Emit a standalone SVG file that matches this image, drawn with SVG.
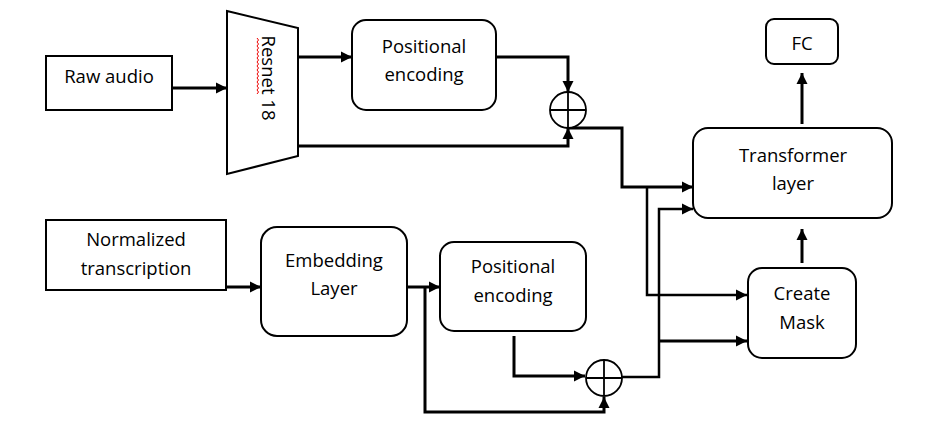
<svg xmlns="http://www.w3.org/2000/svg" width="930" height="434" viewBox="0 0 930 434">
<style>
.box{fill:#fff;stroke:#000;stroke-width:2}
.t{font-family:"Open Sans","Liberation Sans",sans-serif;font-size:18.5px;fill:#000;text-anchor:middle}
.c{fill:none;stroke:#000;stroke-width:3;stroke-linejoin:miter}
.c2{fill:none;stroke:#000;stroke-width:2.5}
.sum{fill:#fff;stroke:#000;stroke-width:1.8}
</style>
<defs>
<marker id="ah" markerUnits="userSpaceOnUse" markerWidth="12" markerHeight="12" refX="11" refY="6" orient="auto">
<path d="M0,0.5 L11,6 L0,11.5 z" fill="#000"/>
</marker>
</defs>
<rect width="930" height="434" fill="#fff"/>
<g id="connectors">
<path class="c" d="M172,88 H227" marker-end="url(#ah)"/>
<path class="c" d="M298,57 H352" marker-end="url(#ah)"/>
<path class="c" d="M496,57 H568 V92" marker-end="url(#ah)"/>
<path class="c" d="M298,146 H568 V128" marker-end="url(#ah)"/>
<path class="c" d="M568,128 H622 V187 H693" marker-end="url(#ah)"/>
<path class="c2" d="M647,187 V295 H747" marker-end="url(#ah)"/>
<path class="c" d="M226,287 H261" marker-end="url(#ah)"/>
<path class="c" d="M407,287 H440" marker-end="url(#ah)"/>
<path class="c" d="M425,287 V412 H604 V397" marker-end="url(#ah)"/>
<path class="c" d="M514,336 V376 H585" marker-end="url(#ah)"/>
<path class="c2" d="M622,377 H659 V209 H693" marker-end="url(#ah)"/>
<path class="c" d="M659,341 H747" marker-end="url(#ah)"/>
<path class="c" d="M802,263 V229" marker-end="url(#ah)"/>
<path class="c" d="M802,124 V73" marker-end="url(#ah)"/>
</g>
<g id="raw-audio">
<rect class="box" x="46" y="56" width="126" height="54"/>
<text class="t" x="109" y="83">Raw audio</text>
</g>
<g id="resnet18">
<polygon class="box" points="227,11 298,28 298,156 227,174"/>
<text class="t" transform="translate(262,78) rotate(90)">Resnet 18</text>
<path d="M257,38 l1.5,2 l-1.5,2 l1.5,2 l-1.5,2 l1.5,2 l-1.5,2 l1.5,2 l-1.5,2 l1.5,2 l-1.5,2 l1.5,2 l-1.5,2 l1.5,2 l-1.5,2 l1.5,2 l-1.5,2 l1.5,2 l-1.5,2 l1.5,2 l-1.5,2 l1.5,2 l-1.5,2 l1.5,2 l-1.5,2 l1.5,2 l-1.5,2 l1.5,2 l-1.5,2" fill="none" stroke="#e00" stroke-width="1"/>
</g>
<g id="pos-enc-1">
<rect class="box" x="352" y="20" width="144" height="90" rx="14"/>
<text class="t" x="424" y="53">Positional</text>
<text class="t" x="424" y="81">encoding</text>
</g>
<g id="sum-1">
<circle class="sum" cx="568" cy="110" r="18"/>
<path d="M550,110 H586 M568,92 V128" stroke="#000" stroke-width="1.8"/>
</g>
<g id="transformer">
<rect class="box" x="693" y="128" width="199" height="90" rx="15"/>
<text class="t" x="793" y="162">Transformer</text>
<text class="t" x="793" y="190">layer</text>
</g>
<g id="fc">
<rect class="box" x="766" y="19" width="72" height="45" rx="8"/>
<text class="t" x="802" y="50">FC</text>
</g>
<g id="create-mask">
<rect class="box" x="748" y="268" width="108" height="90" rx="14"/>
<text class="t" x="802" y="300">Create</text>
<text class="t" x="802" y="329">Mask</text>
</g>
<g id="normalized-transcription">
<rect class="box" x="46" y="220" width="180" height="70"/>
<text class="t" x="136" y="246">Normalized</text>
<text class="t" x="136" y="275">transcription</text>
</g>
<g id="embedding-layer">
<rect class="box" x="261" y="227" width="146" height="109" rx="16"/>
<text class="t" x="334" y="267">Embedding</text>
<text class="t" x="334" y="295">Layer</text>
</g>
<g id="pos-enc-2">
<rect class="box" x="440" y="242" width="146" height="89" rx="14"/>
<text class="t" x="513" y="273">Positional</text>
<text class="t" x="513" y="302">encoding</text>
</g>
<g id="sum-2">
<circle class="sum" cx="604" cy="378" r="18"/>
<path d="M586,378 H622 M604,360 V396" stroke="#000" stroke-width="1.8"/>
</g>
</svg>
